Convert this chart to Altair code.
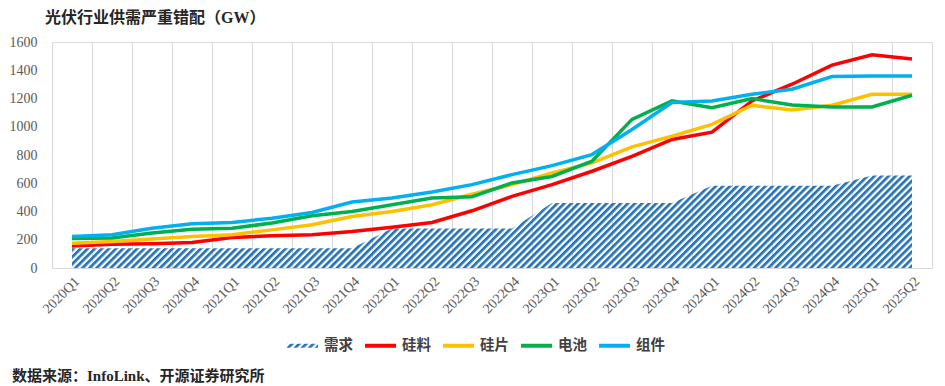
import altair as alt
import pandas as pd
import jinja2
from altair.utils import html as alt_html

# ---------------- data ----------------
quarters = ["2020Q1", "2020Q2", "2020Q3", "2020Q4", "2021Q1", "2021Q2", "2021Q3", "2021Q4",
            "2022Q1", "2022Q2", "2022Q3", "2022Q4", "2023Q1", "2023Q2", "2023Q3", "2023Q4",
            "2024Q1", "2024Q2", "2024Q3", "2024Q4", "2025Q1", "2025Q2"]

demand = [140, 140, 140, 140, 140, 140, 140, 140, 280, 280, 280, 280,
          460, 460, 460, 460, 583, 583, 583, 583, 655, 655]
polysilicon = [156, 168, 171, 180, 216, 228, 235, 258, 289, 322, 405, 507,
               590, 685, 791, 910, 962, 1183, 1301, 1436, 1510, 1479]
wafer = [175, 187, 206, 223, 235, 270, 306, 365, 400, 448, 522, 590,
         673, 744, 858, 934, 1017, 1152, 1118, 1152, 1230, 1230]
cell = [209, 213, 247, 275, 282, 318, 370, 400, 448, 495, 505, 602,
        648, 756, 1052, 1183, 1135, 1199, 1154, 1140, 1140, 1223]
module = [223, 235, 282, 313, 322, 353, 393, 467, 495, 538, 590, 661,
          725, 803, 981, 1171, 1183, 1230, 1266, 1356, 1360, 1360]

series_names = ["需求", "硅料", "硅片", "电池", "组件"]
series_colors = ["url(#hatch) #2371B9", "#FF0000", "#FFC000", "#00B050", "#00B0F0"]

title_text = "光伏行业供需严重错配（GW）"
source_text = "数据来源：InfoLink、开源证券研究所"

# ---------------- tables ----------------
df_area = pd.DataFrame({"季度": quarters, "value": demand})
line_values = {"硅料": polysilicon, "硅片": wafer, "电池": cell, "组件": module}
df_lines = pd.DataFrame(
    [{"季度": q, "系列": name, "value": v}
     for name, vals in line_values.items() for q, v in zip(quarters, vals)]
)
df_source = pd.DataFrame({"t": [source_text]})

SERIF_CJK = "'Liberation Serif', 'Noto Sans CJK SC'"
CJK = "'Noto Sans CJK SC'"

x_enc = alt.X(
    "季度:N", sort=quarters, bandPosition=0.5,
    scale=alt.Scale(type="band", paddingInner=0, paddingOuter=0),
    axis=alt.Axis(title=None, labelAngle=-45, tickBand="extent", grid=True,
                  gridColor="#D9D9D9", gridWidth=1, domainColor="#D9D9D9",
                  ticks=False, labelFont="Liberation Serif", labelFontSize=14,
                  labelColor="#595959", labelPadding=6),
)
y_enc = alt.Y(
    "value:Q",
    scale=alt.Scale(domain=[0, 1600], nice=False),
    axis=alt.Axis(title=None, values=list(range(0, 1601, 200)), format="d",
                  grid=False, domain=False, ticks=False,
                  labelFont="Liberation Serif", labelFontSize=14,
                  labelColor="#595959", labelPadding=15),
)

area = alt.Chart(df_area).mark_area(
    fill="url(#hatch) #2371B9", opacity=1, interpolate="linear"
).encode(x=x_enc, y=y_enc)

lines = alt.Chart(df_lines).mark_line(strokeWidth=3.5, interpolate="linear").encode(
    x=x_enc,
    y=y_enc,
    color=alt.Color(
        "系列:N",
        scale=alt.Scale(domain=series_names, range=series_colors),
        legend=alt.Legend(
            orient="none", legendX=233, legendY=286, direction="horizontal",
            title=None, symbolType="stroke", symbolSize=961, symbolStrokeWidth=4,
            labelFont=CJK, labelFontWeight="bold", labelFontSize=14.5,
            labelColor="#404040", labelOffset=4, columnPadding=4,
        ),
    ),
)

source = alt.Chart(df_source).mark_text(
    align="left", baseline="middle", font=SERIF_CJK, fontWeight="bold",
    fontSize=15, color="#262626",
).encode(text="t:N", x=alt.value(-40), y=alt.value(334))

chart = alt.layer(area, lines, source).properties(
    width=880, height=226,
    title=alt.TitleParams(title_text, anchor="start", frame="group", dx=-7,
                          offset=9, font=SERIF_CJK, fontWeight="bold",
                          fontSize=16, color="#262626"),
    autosize=alt.AutoSizeParams(type="none"),
    padding={"left": 44, "top": 34, "right": 5, "bottom": 118},
).configure_view(stroke=None).configure(background="white")

# hatch pattern definition used by the demand area
HATCH_DEFS = (
    '<svg width="0" height="0" style="position:absolute;width:0;height:0" aria-hidden="true">'
    '<defs><pattern id="hatch" patternUnits="userSpaceOnUse" width="5" height="5" '
    'patternTransform="rotate(45)"><rect x="0" y="0" width="2.7" height="5" fill="#2371B9"/>'
    '</pattern></defs></svg><style>html,body{overflow:hidden;}</style>'
)
_base_template = alt_html.TEMPLATES["standard"]


class HatchTemplate(jinja2.Template):
    def render(self, *args, **kwargs):
        page = _base_template.render(*args, **kwargs)
        if "<body>" in page:
            return page.replace("<body>", "<body>\n" + HATCH_DEFS, 1)
        return HATCH_DEFS + page


try:
    chart.save("out.html", embed_options={"renderer": "svg", "actions": False},
               template=HatchTemplate(""))
except Exception:
    chart.save("out.html", embed_options={"renderer": "svg", "actions": False})
